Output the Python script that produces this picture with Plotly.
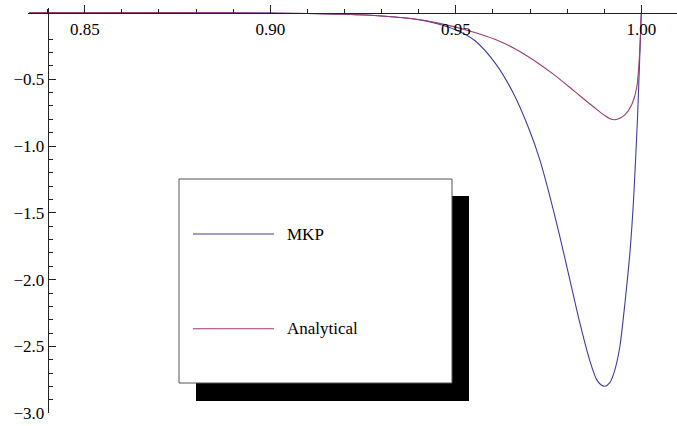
import plotly.graph_objects as go

# ---- data ---------------------------------------------------------------
series_names = ["MKP", "Analytical"]
series_colors = ["#3D3D99", "#993D74"]

x_mkp = [0.835, 0.86, 0.88, 0.90, 0.91, 0.92, 0.93, 0.94, 0.945, 0.9497,
         0.9551, 0.9609, 0.9654, 0.9699, 0.9726, 0.9753, 0.9780, 0.9807,
         0.9834, 0.9861, 0.9879, 0.9891, 0.9902, 0.9915, 0.9928, 0.9942,
         0.99555, 0.9969, 0.99779, 0.99844, 0.99897, 0.99941, 0.99978, 1.0]
y_mkp = [0.0, -0.001, -0.002, -0.005, -0.008, -0.014, -0.027, -0.055, -0.085,
         -0.128, -0.21, -0.39, -0.60, -0.885, -1.10, -1.372, -1.674, -1.998,
         -2.322, -2.606, -2.746, -2.786, -2.797, -2.77, -2.68, -2.50, -2.18,
         -1.80, -1.45, -1.10, -0.78, -0.45, -0.16, 0.0]

x_ana = [0.835, 0.86, 0.88, 0.90, 0.91, 0.92, 0.93, 0.94, 0.945, 0.9497,
         0.9551, 0.9605, 0.9659, 0.9713, 0.9767, 0.9821, 0.9875, 0.99015,
         0.9915, 0.99284, 0.9942, 0.99555, 0.99736, 0.99871, 0.99933, 0.99968,
         0.99987, 1.0]
y_ana = [0.0, -0.001, -0.002, -0.005, -0.008, -0.014, -0.027, -0.053, -0.078,
         -0.108, -0.15, -0.201, -0.271, -0.363, -0.471, -0.593, -0.715, -0.772,
         -0.795, -0.803, -0.792, -0.767, -0.692, -0.567, -0.393, -0.218,
         -0.069, 0.0]

x_range = [0.8347, 1.0096]
y_range = [-3.0, 0.031]

# ---- canvas helpers (pixel -> paper fraction) -----------------------------
W, H = 677, 426
FONT = "Liberation Serif, Times New Roman, serif"
AXIS_COLOR = "#222222"


def px(x):
    return x / W


def py(y):
    return 1 - y / H


fig = go.Figure()
for xs, ys, name, color in [(x_mkp, y_mkp, series_names[0], series_colors[0]),
                            (x_ana, y_ana, series_names[1], series_colors[1])]:
    fig.add_trace(go.Scatter(
        x=xs, y=ys, name=name, mode="lines",
        line=dict(color=color, width=1.1, shape="spline", smoothing=0.8),
        showlegend=False,
    ))

fig.update_layout(
    width=W, height=H,
    margin=dict(l=0, r=0, t=0, b=0, pad=0),
    paper_bgcolor="white", plot_bgcolor="white",
    font=dict(family=FONT, size=17, color="black"),
    xaxis=dict(
        domain=[px(28), 1.0], range=x_range,
        anchor="free", position=py(12.5), side="top",
        showline=True, linecolor=AXIS_COLOR, linewidth=1,
        ticks="outside", ticklen=8, tickwidth=1, tickcolor=AXIS_COLOR,
        ticklabelposition="inside", ticklabelstandoff=10,
        tickmode="linear", tick0=0.85, dtick=0.05, tickformat=".2f",
        minor=dict(tickmode="linear", tick0=0.85, dtick=0.01,
                   ticks="outside", ticklen=4, tickwidth=1, tickcolor=AXIS_COLOR),
        showgrid=False, zeroline=False, automargin=False,
        tickfont=dict(family=FONT, size=17, color="black"),
    ),
    yaxis=dict(
        domain=[py(413.3), py(8.3)], range=y_range,
        anchor="free", position=px(47.7), side="left",
        showline=True, linecolor=AXIS_COLOR, linewidth=1,
        ticks="inside", ticklen=7, tickwidth=1, tickcolor=AXIS_COLOR,
        tickmode="linear", tick0=0, dtick=0.5, tickformat=".1f",
        labelalias={"0.0": ""},
        minor=dict(tickmode="linear", tick0=0, dtick=0.1,
                   ticks="inside", ticklen=4, tickwidth=1, tickcolor=AXIS_COLOR),
        showgrid=False, zeroline=False, automargin=False,
        tickfont=dict(family=FONT, size=17, color="black"),
    ),
)

# ---- legend box with drop shadow ----------------------------------------
shapes = [
    dict(type="rect", xref="paper", yref="paper", layer="above",
         x0=px(196), x1=px(469), y0=py(401), y1=py(196),
         fillcolor="black", line=dict(width=0)),
    dict(type="rect", xref="paper", yref="paper", layer="above",
         x0=px(179), x1=px(452), y0=py(383), y1=py(179),
         fillcolor="white", line=dict(color="#555555", width=1)),
]
annotations = []
for name, color, ypix in zip(series_names, series_colors, [234, 328.7]):
    shapes.append(dict(type="line", xref="paper", yref="paper", layer="above",
                       x0=px(193), x1=px(274), y0=py(ypix), y1=py(ypix),
                       line=dict(color=color, width=1.1)))
    annotations.append(dict(xref="paper", yref="paper", x=px(285), y=py(ypix),
                            xanchor="left", yanchor="middle", showarrow=False,
                            text=name, font=dict(family=FONT, size=17, color="black")))

fig.update_layout(shapes=shapes, annotations=annotations)

fig.write_html("out.html")
